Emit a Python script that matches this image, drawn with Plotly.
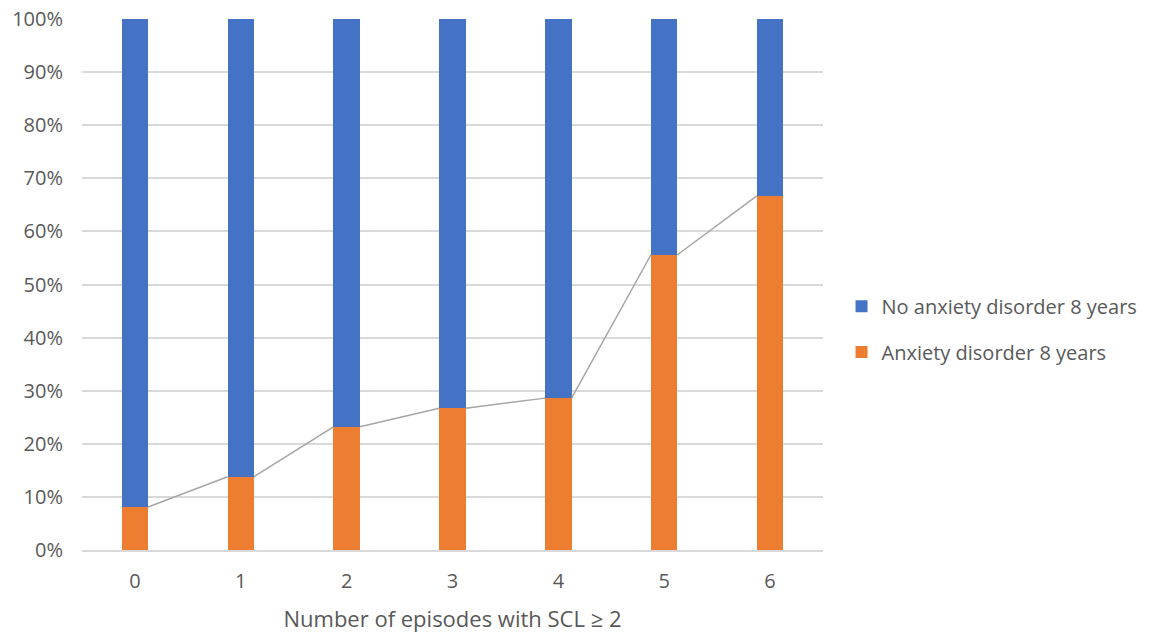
import plotly.graph_objects as go

# Episodes with SCL >= 2 and share (%) with anxiety disorder at 8 years
episodes = [0, 1, 2, 3, 4, 5, 6]
anxiety_pct = [8.1, 13.8, 23.2, 26.7, 28.6, 55.6, 66.7]
no_anxiety_pct = [100 - v for v in anxiety_pct]
y_ticks = [0, 10, 20, 30, 40, 50, 60, 70, 80, 90, 100]
y_tick_labels = [f"{t}%" for t in y_ticks]

BAR_WIDTH = 0.25
BLUE = "#4472C4"
ORANGE = "#ED7D31"
TEXT = "#595959"
FONT = "Open Sans"

fig = go.Figure()

fig.add_trace(go.Bar(
    x=episodes, y=anxiety_pct, name="Anxiety disorder 8 years",
    marker=dict(color=ORANGE, line=dict(width=0)), width=BAR_WIDTH,
    legend="legend2",
))
fig.add_trace(go.Bar(
    x=episodes, y=no_anxiety_pct, name="No anxiety disorder 8 years",
    marker=dict(color=BLUE, line=dict(width=0)), width=BAR_WIDTH,
    legend="legend",
))

# Series lines: join the top of each orange segment to the next one,
# from the right edge of a bar to the left edge of the following bar
line_x, line_y = [], []
for i in range(len(episodes) - 1):
    line_x += [episodes[i] + BAR_WIDTH / 2, episodes[i + 1] - BAR_WIDTH / 2, None]
    line_y += [anxiety_pct[i], anxiety_pct[i + 1], None]
fig.add_trace(go.Scatter(
    x=line_x, y=line_y, mode="lines", showlegend=False, hoverinfo="skip",
    line=dict(color="#A5A5A5", width=1.5),
))

legend_style = dict(
    x=1.025, xanchor="left", yanchor="middle",
    font=dict(size=20, color=TEXT), itemwidth=30,
    bgcolor="rgba(0,0,0,0)", borderwidth=0,
)

fig.update_layout(
    width=1150, height=633,
    barmode="stack",
    paper_bgcolor="white", plot_bgcolor="white",
    margin=dict(l=82, r=327, t=19, b=83, autoexpand=False),
    font=dict(family=FONT, color=TEXT, size=20),
    legend=dict(y=0.459, **legend_style),
    legend2=dict(y=0.373, **legend_style),
    xaxis=dict(
        range=[-0.5, 6.5], tickmode="array", tickvals=episodes,
        ticktext=[str(e) for e in episodes], showgrid=False, zeroline=False,
        showline=True, linecolor="#D9D9D9", linewidth=1.5, ticks="",
        tickfont=dict(size=20, color=TEXT), ticklabelstandoff=12,
        automargin=False,
        title=dict(text="Number of episodes with SCL \u2265 2",
                   font=dict(size=22, color=TEXT), standoff=20),
    ),
    yaxis=dict(
        range=[0, 100], tickmode="array", tickvals=y_ticks, ticktext=y_tick_labels,
        showgrid=True, gridcolor="#D9D9D9", gridwidth=1.5, zeroline=False,
        showline=False, ticks="", tickfont=dict(size=20, color=TEXT),
        ticklabelstandoff=18, automargin=False,
    ),
)

fig.write_html("out.html")
